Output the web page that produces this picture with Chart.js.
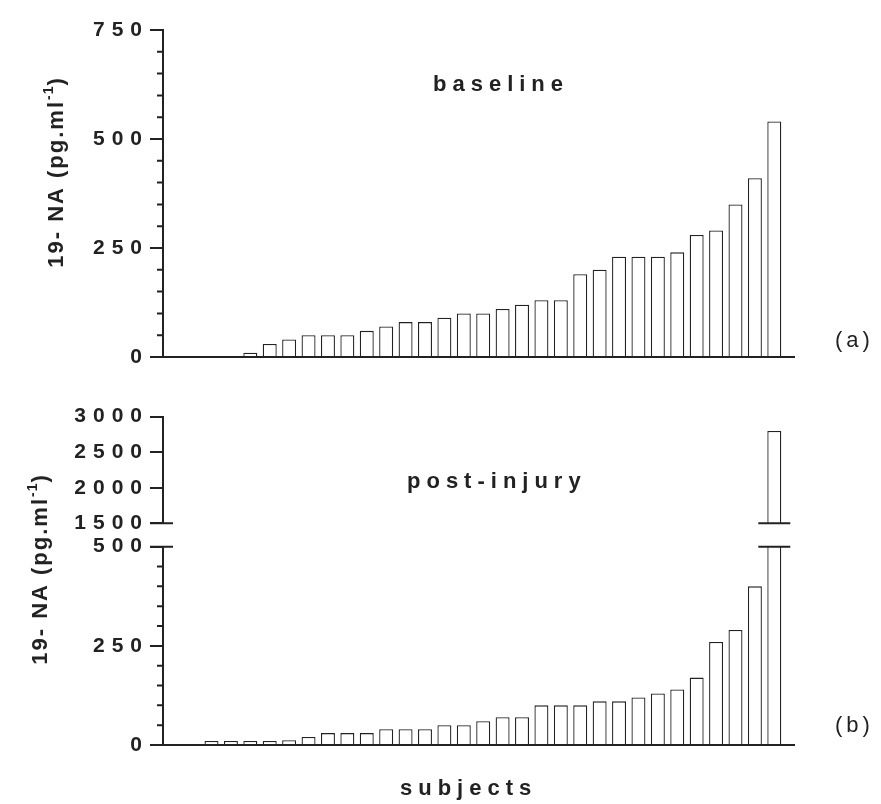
<!DOCTYPE html>
<html lang="en">
<head>
<meta charset="UTF-8">
<title>19-NA baseline and post-injury</title>
<style>
  body { margin: 0; background: #fff; }
  #wrap { position: relative; width: 881px; height: 804px; }
  #wrap canvas { position: absolute; left: 0; }
  #topChart { top: 0; }
  #lowChart { top: 400px; }
  #highChart { top: 400px; }
</style>
</head>
<body>
<div id="wrap">
  <canvas id="topChart" width="881" height="400"></canvas>
  <canvas id="lowChart" width="881" height="404"></canvas>
  <canvas id="highChart" width="881" height="160"></canvas>
</div>
<script src="https://cdn.jsdelivr.net/npm/chart.js"></script>
<script>
const subjects = ['1', '2', '3', '4', '5', '6', '7', '8', '9', '10', '11', '12', '13', '14', '15', '16',
                  '17', '18', '19', '20', '21', '22', '23', '24', '25', '26', '27', '28', '29', '30', '31', '32'];
const baseline = [0, 0, 0, 0, 10, 30, 40, 50, 50, 50, 60, 70, 80, 80, 90, 100,
                  100, 110, 120, 130, 130, 190, 200, 230, 230, 230, 240, 280, 290, 350, 410, 540];
const postInjury = [0, 0, 10, 10, 10, 10, 12, 20, 30, 30, 30, 40, 40, 40, 50, 50,
                    60, 70, 70, 100, 100, 100, 110, 110, 120, 130, 140, 170, 260, 290, 400, 2800];
const baselineTicks = [0, 250, 500, 750];
const lowTicks = [0, 250, 500];
const highTicks = [1500, 2000, 2500, 3000];

const ink = '#222';
const family = '"Liberation Sans", Arial, sans-serif';
const yTitle = [{ t: '19- NA (pg.ml' }, { t: '-1', sup: true }, { t: ')' }];

// wide letter spacing for the tick labels
const tracking = {
  id: 'tracking',
  beforeLayout(chart) { chart.ctx.letterSpacing = '7px'; },
  beforeDraw(chart) { chart.ctx.letterSpacing = '7px'; }
};

// minor ticks, extended baseline and the axis break marks
const axisMarks = {
  id: 'axisMarks',
  afterDatasetsDraw(chart, args, opts) {
    const { ctx, chartArea: a } = chart;
    const y = chart.scales.y;
    ctx.save();
    ctx.strokeStyle = ink;
    ctx.lineWidth = 2;
    ctx.beginPath();
    y.ticks.forEach(t => {
      if (!opts.labels.includes(t.value)) {
        const py = y.getPixelForValue(t.value);
        ctx.moveTo(a.left - 6, py);
        ctx.lineTo(a.left, py);
      }
    });
    if (opts.baseline) {
      const py = y.getPixelForValue(0);
      ctx.moveTo(a.left - 13, py);
      ctx.lineTo(a.right + 11, py);
    }
    if (opts.cut) {
      const py = opts.cut === 'top' ? a.top : a.bottom;
      ctx.moveTo(a.left - 13, py);
      ctx.lineTo(a.left + 10, py);
      const values = chart.data.datasets[0].data;
      chart.getDatasetMeta(0).data.forEach((bar, i) => {
        const over = opts.cut === 'top' ? values[i] > y.max : values[i] > y.min;
        if (over) {
          ctx.moveTo(bar.x - 16, py);
          ctx.lineTo(bar.x + 16, py);
        }
      });
    }
    ctx.stroke();
    ctx.restore();
  }
};

// free text: panel names, (a)/(b), rotated y titles
const notes = {
  id: 'notes',
  afterDraw(chart, args, opts) {
    const ctx = chart.ctx;
    (opts.items || []).forEach(n => {
      const parts = n.parts || [{ t: n.text }];
      const fontOf = p => `${n.weight || 'bold'} ${p.sup ? Math.round(n.size * 0.65) : n.size}px ${family}`;
      const gap = p => (p.sup ? 1 : n.spacing) + 'px';
      ctx.save();
      ctx.translate(n.x, n.y);
      if (n.rotate) ctx.rotate(n.rotate * Math.PI / 180);
      ctx.fillStyle = ink;
      ctx.textAlign = 'left';
      ctx.textBaseline = 'alphabetic';
      let w = 0;
      parts.forEach(p => { ctx.font = fontOf(p); ctx.letterSpacing = gap(p); w += ctx.measureText(p.t).width; });
      let cx = n.center ? -w / 2 : 0;
      parts.forEach(p => {
        ctx.font = fontOf(p);
        ctx.letterSpacing = gap(p);
        ctx.fillText(p.t, cx, p.sup ? -n.size * 0.45 : 0);
        cx += ctx.measureText(p.t).width;
      });
      ctx.restore();
    });
  }
};

function makeChart(id, values, o) {
  return new Chart(document.getElementById(id), {
    type: 'bar',
    data: {
      labels: subjects,
      datasets: [{
        data: values,
        backgroundColor: '#fff',
        borderColor: ink,
        borderWidth: 1.3,
        barPercentage: 0.72,
        categoryPercentage: 1,
        clip: 0
      }]
    },
    options: {
      responsive: false,
      animation: false,
      devicePixelRatio: 1,
      layout: { padding: { top: o.top, right: 97, left: 0, bottom: 0 } },
      plugins: {
        legend: { display: false },
        tooltip: { enabled: false },
        axisMarks: { labels: o.labels, baseline: o.baseline, cut: o.cut },
        notes: { items: o.notes }
      },
      scales: {
        x: {
          offset: true,
          grid: { display: false },
          border: { display: false },
          ticks: { display: false },
          afterFit: s => { s.height = o.xh; }
        },
        y: {
          min: o.min,
          max: o.max,
          afterFit: s => { s.width = 163; },
          ticks: {
            stepSize: o.step,
            autoSkip: false,
            padding: 1,
            color: ink,
            font: { family: family, size: 21, weight: 'bold' },
            callback: v => o.labels.includes(v) ? String(v) : ''
          },
          grid: {
            drawOnChartArea: false,
            tickLength: 13,
            lineWidth: 2,
            color: c => (c.tick && o.labels.includes(c.tick.value)) ? ink : 'rgba(0,0,0,0)'
          },
          border: { color: ink, width: 2 }
        }
      }
    },
    plugins: [tracking, axisMarks, notes]
  });
}

makeChart('topChart', baseline, {
  top: 30, xh: 43, min: 0, max: 750, step: 50, labels: baselineTicks, baseline: true,
  notes: [
    { text: 'baseline', x: 433, y: 91, size: 22, spacing: 6 },
    { text: '(a)', x: 835, y: 347, size: 22, spacing: 4, weight: 'normal' },
    { parts: yTitle, x: 63, y: 172, rotate: -90, center: true, size: 22, spacing: 2 }
  ]
});

makeChart('lowChart', postInjury, {
  top: 146.7, xh: 59, min: 0, max: 500, step: 50, labels: lowTicks, baseline: true, cut: 'top',
  notes: [
    { text: 'post-injury', x: 407, y: 88, size: 22, spacing: 6 },
    { text: '(b)', x: 835, y: 332, size: 22, spacing: 4, weight: 'normal' },
    { text: 'subjects', x: 400, y: 395, size: 22, spacing: 6 },
    { parts: yTitle, x: 47, y: 169, rotate: -90, center: true, size: 22, spacing: 2 }
  ]
});

makeChart('highChart', postInjury, {
  top: 16.7, xh: 36.7, min: 1500, max: 3000, step: 500, labels: highTicks, cut: 'bottom',
  notes: []
});
</script>
</body>
</html>
